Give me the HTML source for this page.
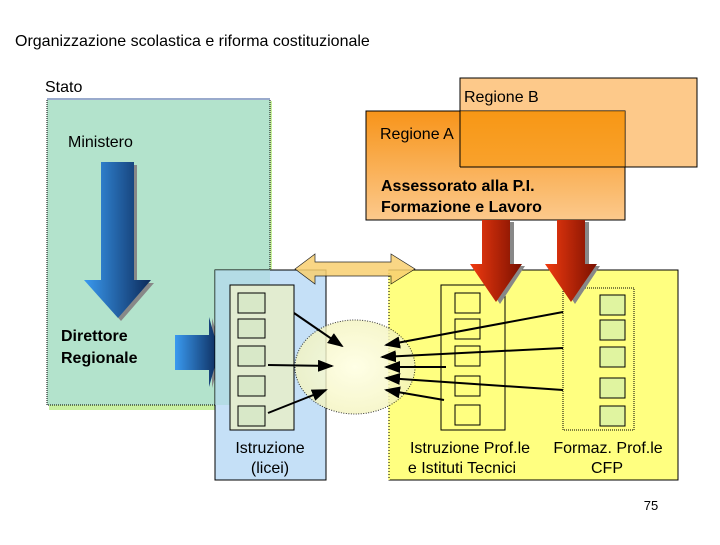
<!DOCTYPE html>
<html><head><meta charset="utf-8"><style>
body{margin:0;width:720px;height:540px;background:#fff;overflow:hidden}
svg text{font-family:"Liberation Sans",sans-serif}
</style></head><body>
<svg width="720" height="540" xmlns="http://www.w3.org/2000/svg">
<defs>
<linearGradient id="bl" x1="0" x2="1"><stop offset="0" stop-color="#3a9af0"/><stop offset="1" stop-color="#0c2a5a"/></linearGradient>
<linearGradient id="rd" x1="0" x2="1"><stop offset="0" stop-color="#f03a10"/><stop offset="1" stop-color="#7a1000"/></linearGradient>
<linearGradient id="or" x1="0" y1="0" x2="0" y2="1"><stop offset="0" stop-color="#f7941a"/><stop offset="1" stop-color="#fcc98c"/></linearGradient>
<radialGradient id="ci"><stop offset="0" stop-color="#ffffe0"/><stop offset="1" stop-color="#f5f5c0"/></radialGradient>
<marker id="ah" markerWidth="8" markerHeight="6" refX="7" refY="3" orient="auto"><path d="M0,0L8,3L0,6z" fill="#000"/></marker>
</defs>
<text x="15" y="46" font-size="16">Organizzazione scolastica e riforma costituzionale</text>
<text x="45" y="92" font-size="16">Stato</text>
<!-- green box -->
<rect x="49" y="101" width="223" height="309" fill="#c8f0a0"/>
<rect x="47" y="99" width="223" height="306" fill="#b3e3cc" stroke="#000" stroke-dasharray="1,1"/>
<line x1="47" y1="99" x2="270" y2="99" stroke="#9ac" stroke-width="2"/>
<text x="68" y="147" font-size="16">Ministero</text>
<path d="M104,165h33v118h17l-33,38l-34,-38h17z" fill="#888"/>
<path d="M101,162h33v118h17l-33,38l-34,-38h17z" fill="url(#bl)"/>
<text x="61" y="341" font-size="16" font-weight="bold">Direttore</text>
<text x="61" y="363" font-size="16" font-weight="bold">Regionale</text>
<path d="M178,338h34v-20l10,35l-10,35v-20h-34z" fill="#888"/>
<path d="M175,335h34v-18l10,35l-10,35v-17h-34z" fill="url(#bl)"/>
<!-- regions -->
<rect x="460" y="78" width="237" height="89" fill="#fdc98a" stroke="#000"/>
<text x="464" y="102" font-size="16">Regione B</text>
<rect x="366" y="111" width="259" height="109" fill="url(#or)" stroke="#000"/>
<rect x="460" y="111" width="165" height="56" fill="#f99a12" opacity="0.6"/>
<line x1="460" y1="111" x2="460" y2="167" stroke="#000"/>
<line x1="460" y1="167" x2="625" y2="167" stroke="#000"/>
<text x="380" y="139" font-size="16">Regione A</text>
<text x="381" y="191" font-size="16" font-weight="bold">Assessorato alla P.I.</text>
<text x="381" y="212" font-size="16" font-weight="bold">Formazione e Lavoro</text>
<!-- blue box -->
<rect x="215" y="270" width="111" height="210" fill="#c5e0f7" stroke="#000"/>
<rect x="215" y="270" width="55" height="135" fill="#a8d8d8" opacity="0.6"/>
<rect x="230" y="285" width="64" height="145" fill="#e2ecd0" stroke="#000"/>
<g fill="#d8e8c8" stroke="#000">
<rect x="238" y="293" width="27" height="20"/><rect x="238" y="319" width="27" height="19"/><rect x="238" y="346" width="27" height="20"/><rect x="238" y="376" width="27" height="20"/><rect x="238" y="406" width="27" height="20"/></g>
<text x="270" y="453" font-size="16" text-anchor="middle">Istruzione</text>
<text x="270" y="473" font-size="16" text-anchor="middle">(licei)</text>
<!-- yellow box -->
<rect x="389" y="270" width="289" height="210" fill="#ffff80" stroke="#000"/>
<line x1="389" y1="270" x2="389" y2="480" stroke="#ffff80" stroke-width="1.5"/>
<line x1="389" y1="270" x2="389" y2="480" stroke="#000" stroke-dasharray="1,2"/>
<rect x="441" y="285" width="64" height="145" fill="none" stroke="#000"/>
<g fill="none" stroke="#000"><rect x="455" y="293" width="25" height="20"/><rect x="455" y="319" width="25" height="20"/><rect x="455" y="346" width="25" height="20"/><rect x="455" y="376" width="25" height="20"/><rect x="455" y="405" width="25" height="20"/></g>
<rect x="563" y="288" width="71" height="142" fill="none" stroke="#000" stroke-dasharray="1,1"/>
<g fill="#e0f4a0" stroke="#000"><rect x="600" y="295" width="25" height="20"/><rect x="600" y="320" width="25" height="20"/><rect x="600" y="347" width="25" height="20"/><rect x="600" y="378" width="25" height="20"/><rect x="600" y="406" width="25" height="20"/></g>
<text x="470" y="453" font-size="16" text-anchor="middle">Istruzione Prof.le</text>
<text x="462" y="473" font-size="16" text-anchor="middle">e Istituti Tecnici</text>
<text x="608" y="453" font-size="16" text-anchor="middle">Formaz. Prof.le</text>
<text x="607" y="473" font-size="16" text-anchor="middle">CFP</text>
<!-- circle -->
<ellipse cx="355" cy="367" rx="60" ry="47" fill="url(#ci)" opacity="0.8" stroke="#000" stroke-dasharray="1,1.5"/>
<!-- double arrow -->
<path d="M295,269l20,-15v8h76v-8l24,15l-24,15v-8h-76v8z" fill="#f8d070" stroke="#000" stroke-width="0.7" opacity="0.85"/>
<!-- red arrows -->
<path d="M486,222h28v44h11l-25,38l-25,-38h11z" fill="#888"/>
<path d="M482,220h28v44h12l-26,38l-26,-38h12z" fill="url(#rd)"/>
<path d="M561,222h28v44h11l-25,38l-25,-38h11z" fill="#888"/>
<path d="M557,220h28v44h12l-26,38l-26,-38h12z" fill="url(#rd)"/>
<!-- connectors -->
<g stroke="#000" stroke-width="2" fill="none" marker-end="url(#ah)">
<line x1="294" y1="313" x2="342" y2="346"/>
<line x1="268" y1="365" x2="332" y2="366"/>
<line x1="268" y1="413" x2="326" y2="390"/>
<line x1="563" y1="312" x2="386" y2="345"/>
<line x1="563" y1="348" x2="382" y2="357"/>
<line x1="446" y1="367" x2="386" y2="367"/>
<line x1="563" y1="390" x2="386" y2="378"/>
<line x1="444" y1="400" x2="386" y2="390"/>
</g>
<text x="651" y="510" font-size="13" text-anchor="middle">75</text>
</svg>
</body></html>
